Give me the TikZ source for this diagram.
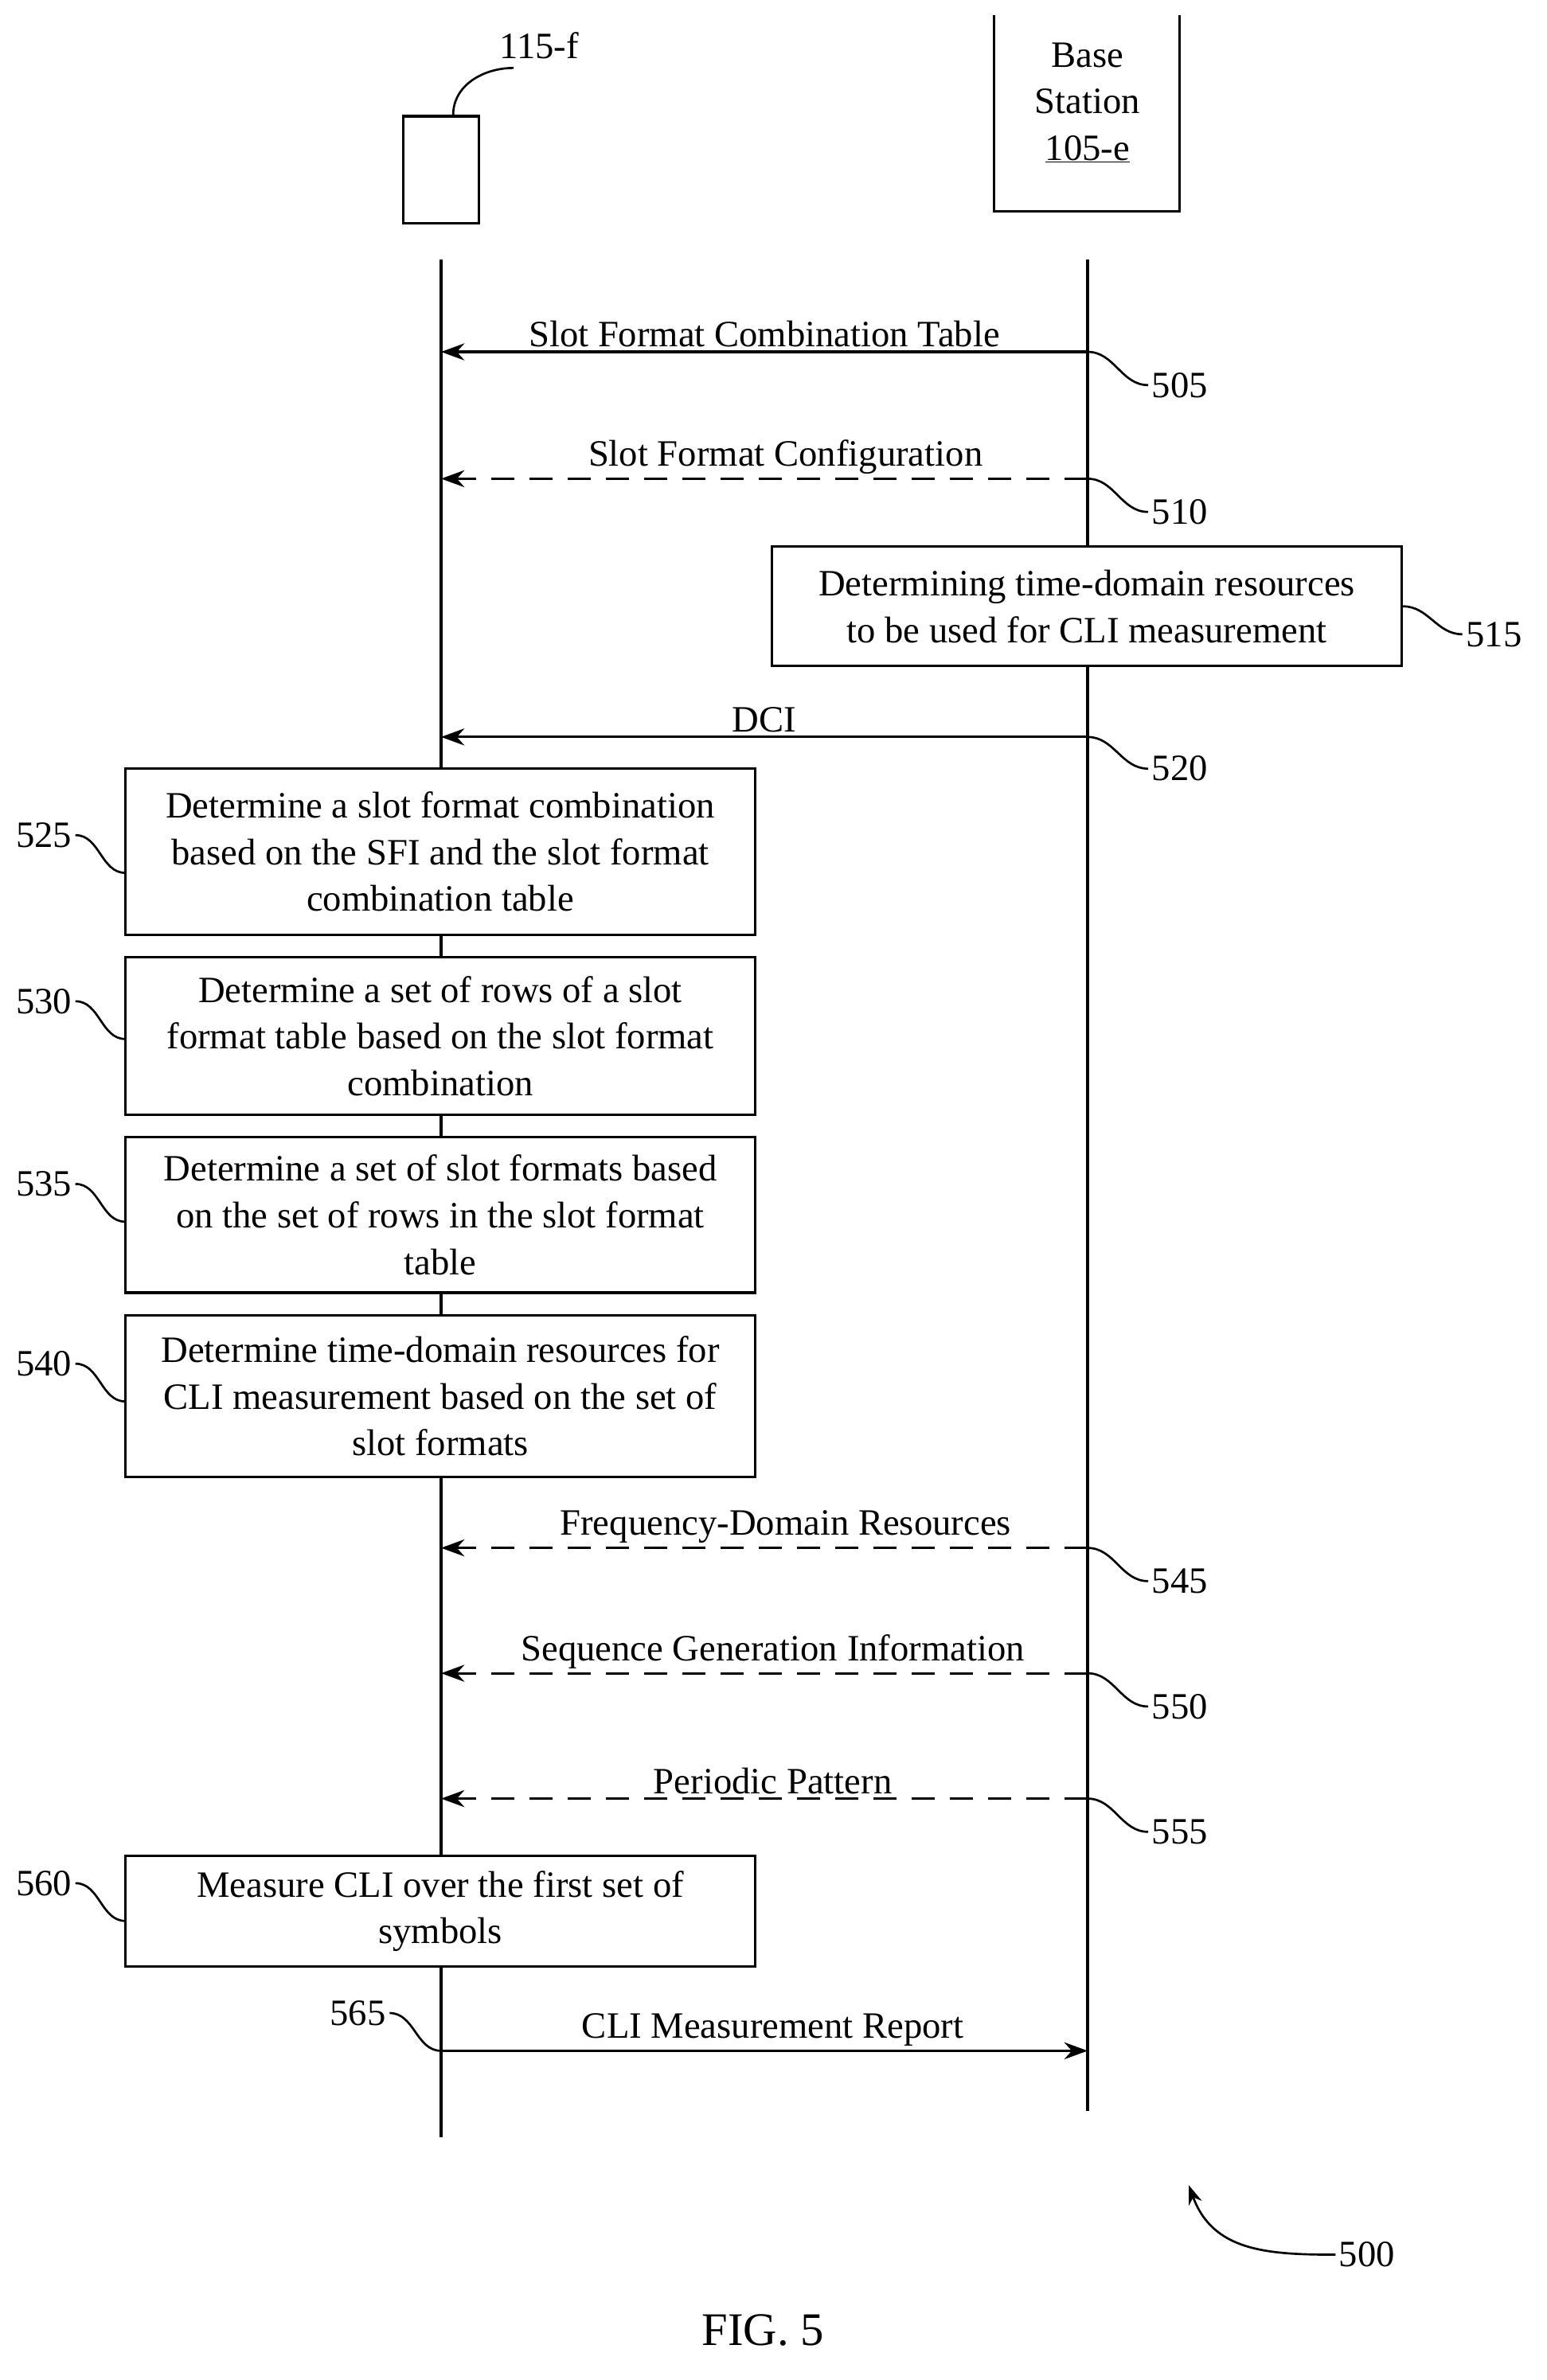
\documentclass[tikz,border=0pt]{standalone}
\usepackage{fontspec}
\setmainfont{Liberation Serif}
\usetikzlibrary{arrows.meta}
\begin{document}
\begin{tikzpicture}[x=0.05cm,y=-0.05cm,
  every node/.style={font=\fontsize{35}{44}\selectfont},
  ln/.style={line width=2.4pt},
  msg/.style={ln,-{Stealth[length=22pt,width=16pt]}},
  dsh/.style={msg,dash pattern=on 22pt off 14pt},
  box/.style={draw,fill=white,ln,align=center,inner sep=0pt},
  sq/.style={line width=2pt}]
\useasboundingbox (0,0) rectangle (1024,1576);
% UE
\node[draw,ln,minimum width=50*0.05cm,minimum height=71*0.05cm,inner sep=0] (ue) at (292,112.5) {};
\node (uel) at (357,30) {115-f};
\draw[sq] (ue.north) ++(8,0) coordinate (uq) (uq) to[out=90,in=180] (340,45) coordinate (uq2);
% BS
\draw[ln] (658,10) -- (658,140) -- (781,140) -- (781,10);
\node[align=center] (bs) at (720,68) {Base\\Station\\\underline{105-e}};
% lifelines
\coordinate (ut) at (292,172); \coordinate (ub) at (292,1415);
\coordinate (bt) at (720,172); \coordinate (bb) at (720,1398);
\draw[ln] (ut) -- (ub); \draw[ln] (bt) -- (bb);
% messages
\foreach \y/\n in {233/a,317/b,488/c,1025/d,1108/e,1191/f,1358/g}{
 \coordinate (u\n) at (292,\y); \coordinate (b\n) at (720,\y);}
\draw[msg] (ba) -- node[above=0pt] {Slot Format Combination Table} (ua);
\draw[dsh] (bb) -- node[above=0pt,xshift=20pt] {Slot Format Configuration} (ub);
\draw[msg] (bc) -- node[above=0pt] {DCI} (uc);
\draw[dsh] (bd) -- node[above=0pt,xshift=20pt] {Frequency-Domain Resources} (ud);
\draw[dsh] (be) -- node[above=0pt,xshift=8pt] {Sequence Generation Information} (ue);
\draw[dsh] (bf) -- node[above=0pt,xshift=8pt] {Periodic Pattern} (uf);
\draw[msg] (ug) -- node[above=0pt,xshift=8pt] {CLI Measurement Report} (bg);
% right labels
\foreach \n/\y/\t in {a/255/505,b/339/510,c/509/520,d/1047/545,e/1130/550,f/1213/555}{
 \node (l\t) at (781,\y) {\t};
 \draw[sq] (b\n) to[out=0,in=180] (l\t.west);}
% box 515
\node[box,minimum width=417*0.05cm,minimum height=79*0.05cm] (k515) at (719.5,401.5) {Determining time-domain resources\\to be used for CLI measurement};
\node (l515) at (989,420) {515};
\draw[sq] (k515.east) to[out=0,in=180] (l515.west);
% left boxes
\foreach \t/\ya/\yb/\ly/\txt in {525/509/619/553/{Determine a slot format combination\\based on the SFI and the slot format\\combination table},
 530/634/738/663/{Determine a set of rows of a slot\\format table based on the slot format\\combination},
 535/753/856/784/{Determine a set of slot formats based\\on the set of rows in the slot format\\table},
 540/871/978/903/{Determine time-domain resources for\\CLI measurement based on the set of\\slot formats},
 560/1229/1302/1247/{Measure CLI over the first set of\\symbols}}{
 \node[box,minimum width=417*0.05cm,minimum height={(\yb-\ya)*0.05cm}] (k\t) at (291.5,{(\ya+\yb)/2}) {\txt};
 \node (l\t) at (29,\ly) {\t};
 \draw[sq] (l\t.east) to[out=0,in=180] (83,\ly+25);}
\node (l565) at (237,1333) {565};
\draw[sq] (l565.east) to[out=0,in=180] (ug);
% 500
\node (l500) at (905,1493) {500};
\draw[sq,-{Stealth[length=18pt,width=13pt]}] (l500.west) to[out=180,in=-70,looseness=1.1] (787,1447);
\node[font=\fontsize{44}{52}\selectfont] (fig) at (505,1543) {FIG. 5};
\end{tikzpicture}
\end{document}
